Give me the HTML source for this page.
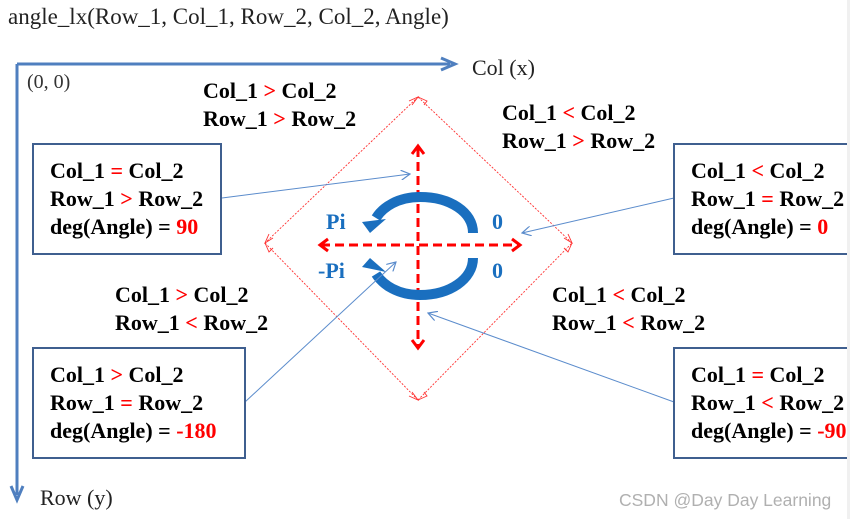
<!DOCTYPE html>
<html><head><meta charset="utf-8"><style>
html,body{margin:0;padding:0;background:#fff;}
svg{display:block;}
text{font-family:"Liberation Serif",serif;}
.b{font-weight:bold;font-size:22px;fill:#000;}
.r{fill:#ff0000;}
</style></head><body>
<svg width="850" height="519" viewBox="0 0 850 519" xmlns="http://www.w3.org/2000/svg">
<defs>
<marker id="bl" markerWidth="10" markerHeight="10" refX="9" refY="5" orient="auto" markerUnits="userSpaceOnUse"><path d="M0,0 L9,5 L0,10" fill="none" stroke="#5b8ccc" stroke-width="1.2"/></marker>
</defs>
<text x="8" y="24" font-size="23" fill="#222">angle_lx(Row_1, Col_1, Row_2, Col_2, Angle)</text>
<!-- axes -->
<line x1="17" y1="64" x2="450" y2="64" stroke="#4f7fbf" stroke-width="3"/>
<path d="M441,58 L455,64 L441,70" fill="none" stroke="#4f7fbf" stroke-width="3"/>
<line x1="17" y1="64" x2="17" y2="495" stroke="#4f7fbf" stroke-width="3"/>
<path d="M11,486 L17,500 L23,486" fill="none" stroke="#4f7fbf" stroke-width="3"/>
<text x="472" y="75" font-size="22" fill="#222">Col (x)</text>
<text x="40" y="505" font-size="22" fill="#222">Row (y)</text>
<text x="27" y="88" font-size="20" fill="#333">(0, 0)</text>
<!-- diamond -->
<g stroke="#ff3030" stroke-width="0.9" stroke-dasharray="2,1.5" fill="none">
<line x1="418" y1="97" x2="265" y2="243"/>
<line x1="265" y1="243" x2="418" y2="400"/>
<line x1="418" y1="400" x2="572" y2="243"/>
<line x1="572" y1="243" x2="418" y2="97"/>
</g>
<g fill="none" stroke="#ff3030" stroke-width="0.9">
<path d="M409,101 L418,97 L412,105 M418,97 L427,101 L424,105"/>
<path d="M269,234 L265,243 L273,238 M265,243 L269,252 L273,248"/>
<path d="M568,234 L572,243 L564,238 M572,243 L568,252 L564,248"/>
<path d="M409,396 L418,400 L412,392 M418,400 L427,396 L424,392"/>
</g>
<!-- cross -->
<g stroke="#ff0000" stroke-width="3" stroke-dasharray="9,5" fill="none">
<line x1="418" y1="148" x2="418" y2="347"/>
<line x1="321" y1="245" x2="519" y2="245"/>
</g>
<g fill="none" stroke="#ff0000" stroke-width="3">
<path d="M412,154 L418,146 L424,154"/>
<path d="M412,340 L418,348 L424,340"/>
<path d="M328,239 L320,245 L328,251"/>
<path d="M512,239 L520,245 L512,251"/>
</g>
<!-- arcs -->
<g fill="none" stroke="#1a6fbf">
<path d="M473,233 C473,212 450,197 420,197 C398,197 383,207 376,218" stroke-width="10"/>
<path d="M473,258 C473,279 450,295 420,295 C398,295 383,285 376,274" stroke-width="10"/>
</g>
<path d="M362,222 L386,219 L370,233 Z" fill="#1a6fbf"/>
<path d="M362,267 L386,272 L370,258 Z" fill="#1a6fbf"/>
<g font-weight="bold" font-size="22" fill="#1a6fbf">
<text x="326" y="229">Pi</text>
<text x="318" y="278">-Pi</text>
<text x="492" y="229">0</text>
<text x="492" y="278">0</text>
</g>
<!-- connectors -->
<g stroke="#5b8ccc" stroke-width="1" fill="none">
<line x1="222" y1="198" x2="410" y2="174" marker-end="url(#bl)"/>
<line x1="674" y1="198" x2="522" y2="233" marker-end="url(#bl)"/>
<line x1="245" y1="402" x2="396" y2="262" marker-end="url(#bl)"/>
<line x1="674" y1="402" x2="428" y2="313" marker-end="url(#bl)"/>
</g>
<!-- boxes -->
<g fill="#fff" stroke="#3f5f8f" stroke-width="2">
<rect x="33" y="144" width="188" height="110"/>
<rect x="674" y="144" width="190" height="110"/>
<rect x="33" y="348" width="212" height="110"/>
<rect x="674" y="348" width="190" height="110"/>
</g>
<g class="b">
<text x="50" y="178">Col_1 <tspan class="r">=</tspan> Col_2</text>
<text x="50" y="206">Row_1 <tspan class="r">&gt;</tspan> Row_2</text>
<text x="50" y="234">deg(Angle) = <tspan class="r">90</tspan></text>

<text x="691" y="178">Col_1 <tspan class="r">&lt;</tspan> Col_2</text>
<text x="691" y="206">Row_1 <tspan class="r">=</tspan> Row_2</text>
<text x="691" y="234">deg(Angle) = <tspan class="r">0</tspan></text>

<text x="50" y="382">Col_1 <tspan class="r">&gt;</tspan> Col_2</text>
<text x="50" y="410">Row_1 <tspan class="r">=</tspan> Row_2</text>
<text x="50" y="438">deg(Angle) = <tspan class="r">-180</tspan></text>

<text x="691" y="382">Col_1 <tspan class="r">=</tspan> Col_2</text>
<text x="691" y="410">Row_1 <tspan class="r">&lt;</tspan> Row_2</text>
<text x="691" y="438">deg(Angle) = <tspan class="r">-90</tspan></text>

<text x="203" y="98">Col_1 <tspan class="r">&gt;</tspan> Col_2</text>
<text x="203" y="126">Row_1 <tspan class="r">&gt;</tspan> Row_2</text>

<text x="502" y="120">Col_1 <tspan class="r">&lt;</tspan> Col_2</text>
<text x="502" y="148">Row_1 <tspan class="r">&gt;</tspan> Row_2</text>

<text x="115" y="302">Col_1 <tspan class="r">&gt;</tspan> Col_2</text>
<text x="115" y="330">Row_1 <tspan class="r">&lt;</tspan> Row_2</text>

<text x="552" y="302">Col_1 <tspan class="r">&lt;</tspan> Col_2</text>
<text x="552" y="330">Row_1 <tspan class="r">&lt;</tspan> Row_2</text>
</g>
<rect x="847" y="0" width="3" height="519" fill="#f0f0f0"/>
<text x="619" y="506" font-size="17.5" fill="#b0b0b0" style="font-family:'Liberation Sans',sans-serif">CSDN @Day Day Learning</text>
</svg>
</body></html>
